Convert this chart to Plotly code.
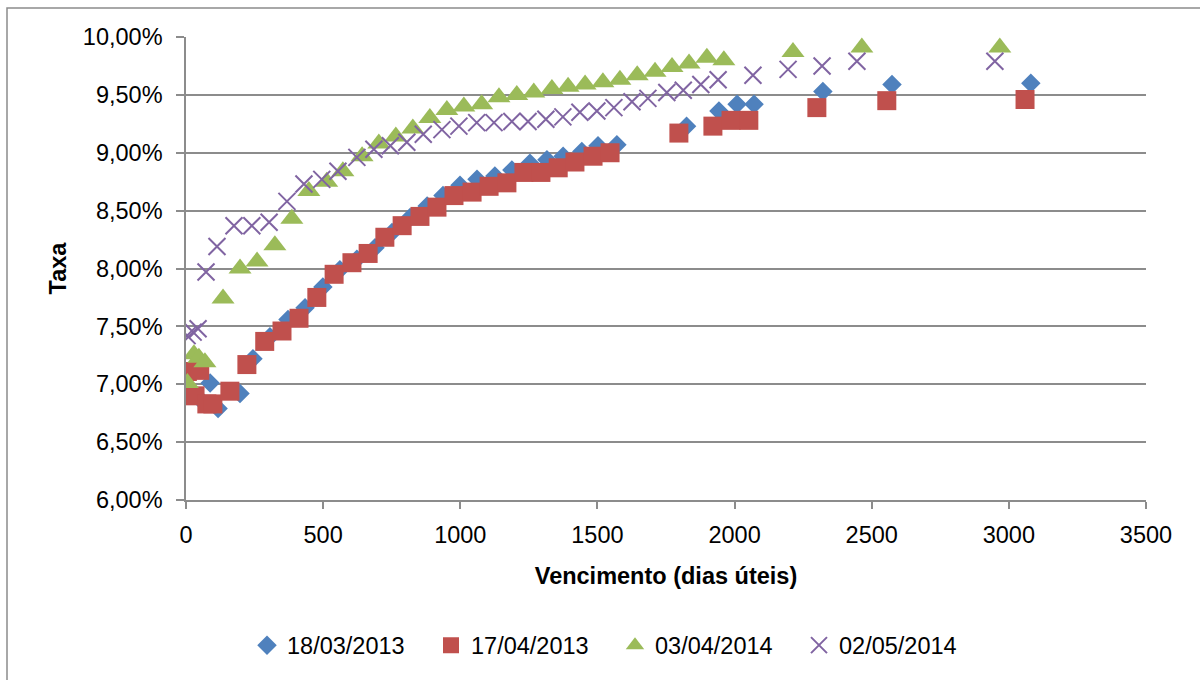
import plotly.graph_objects as go

# ---- data (days to maturity, rate in %) ----
days_2013_03 = [51, 88, 117, 197, 244, 306, 372, 434, 499, 561, 623, 689, 751, 817, 879, 937, 999,
                1061, 1126, 1188, 1254, 1316, 1375, 1443, 1502, 1571, 1825, 1943, 2009, 2071, 2322, 2574, 3080]
rate_2013_03 = [6.87, 7.01, 6.79, 6.92, 7.22, 7.41, 7.56, 7.66, 7.84, 7.99, 8.08, 8.18, 8.31, 8.44, 8.54, 8.63, 8.72,
                8.77, 8.80, 8.85, 8.91, 8.94, 8.97, 9.01, 9.06, 9.07, 9.23, 9.36, 9.42, 9.42, 9.53, 9.59, 9.60]

days_2013_04 = [5, 33, 50, 76, 98, 160, 222, 287, 350, 412, 477, 540, 605, 664, 725, 788, 853, 915, 977,
                1043, 1105, 1170, 1232, 1294, 1357, 1418, 1484, 1546, 1797, 1921, 1987, 2052, 2300, 2555, 3059]
rate_2013_04 = [7.11, 6.90, 7.12, 6.83, 6.83, 6.94, 7.17, 7.37, 7.46, 7.57, 7.75, 7.95, 8.05, 8.13, 8.27, 8.37, 8.45, 8.53, 8.63,
                8.66, 8.71, 8.74, 8.83, 8.83, 8.87, 8.92, 8.97, 9.00, 9.17, 9.23, 9.28, 9.28, 9.39, 9.45, 9.46]

days_2014_04 = [5, 29, 47, 69, 135, 197, 259, 324, 386, 448, 513, 572, 642, 703, 765, 827, 889, 951, 1013,
                1078, 1141, 1206, 1268, 1334, 1393, 1455, 1520, 1582, 1645, 1710, 1772, 1834, 1899, 1961, 2213, 2464, 2967]
rate_2014_04 = [7.01, 7.26, 7.23, 7.19, 7.74, 8.00, 8.06, 8.20, 8.43, 8.67, 8.75, 8.84, 8.97, 9.08, 9.14, 9.21, 9.30, 9.37, 9.40,
                9.42, 9.48, 9.50, 9.52, 9.55, 9.57, 9.59, 9.61, 9.63, 9.67, 9.70, 9.74, 9.77, 9.82, 9.80, 9.87, 9.91, 9.91]

days_2014_05 = [4, 26, 44, 73, 113, 175, 240, 303, 368, 430, 495, 554, 623, 685, 745, 805, 865, 933, 995,
                1060, 1123, 1188, 1247, 1312, 1374, 1436, 1498, 1560, 1626, 1684, 1753, 1813, 1877, 1940, 2067, 2195, 2319, 2446, 2949]
rate_2014_05 = [7.42, 7.45, 7.48, 7.97, 8.19, 8.37, 8.37, 8.40, 8.58, 8.73, 8.77, 8.84, 8.96, 9.03, 9.06, 9.09, 9.16, 9.20, 9.23,
                9.26, 9.26, 9.27, 9.27, 9.29, 9.31, 9.35, 9.36, 9.39, 9.44, 9.47, 9.52, 9.54, 9.59, 9.63, 9.67, 9.72, 9.75, 9.79, 9.79]

series_names = ["18/03/2013", "17/04/2013", "03/04/2014", "02/05/2014"]
x_ticks = [0, 500, 1000, 1500, 2000, 2500, 3000, 3500]
y_ticks = [6.0, 6.5, 7.0, 7.5, 8.0, 8.5, 9.0, 9.5, 10.0]

FONT = "Liberation Sans"
FS = 23.5
GRID = "#8c8c8c"

fig = go.Figure()
fig.add_trace(go.Scatter(x=days_2013_03, y=[v / 100 for v in rate_2013_03], mode="markers", name=series_names[0],
                         marker=dict(symbol="diamond", size=15, color="#4F81BD")))
fig.add_trace(go.Scatter(x=days_2013_04, y=[v / 100 for v in rate_2013_04], mode="markers", name=series_names[1],
                         marker=dict(symbol="square", size=19, color="#C0504D")))
fig.add_trace(go.Scatter(x=days_2014_04, y=[v / 100 for v in rate_2014_04], mode="markers", name=series_names[2],
                         marker=dict(symbol="triangle-up", size=20, color="#9BBB59")))
fig.add_trace(go.Scatter(x=days_2014_05, y=[v / 100 for v in rate_2014_05], mode="markers", name=series_names[3],
                         marker=dict(symbol="x-thin-open", size=17, color="#8064A2",
                                     line=dict(color="#8064A2", width=2))))

L, R, T, B = 186, 54, 37, 178
W, H = 1200, 680
pw, ph = W - L - R, H - T - B

fig.update_layout(
    width=W, height=H,
    margin=dict(l=L, r=R, t=T, b=B, pad=0),
    paper_bgcolor="white", plot_bgcolor="white",
    separators=",.",
    font=dict(family=FONT, size=FS, color="#000000"),
    showlegend=True,
    legend=dict(orientation="h", x=(247 - L) / pw, xanchor="left", y=(T + ph - 648) / ph, yanchor="middle",
                font=dict(family=FONT, size=FS, color="#000000"), entrywidth=139, itemwidth=30,
                bgcolor="rgba(0,0,0,0)"),
    xaxis=dict(range=[0, 3500], tickvals=x_ticks, showgrid=False, zeroline=False,
               showline=True, linecolor=GRID, linewidth=1.5, ticks="outside", tickcolor=GRID,
               ticklen=7, tickwidth=1.5, ticklabelstandoff=6,
               title=dict(text="<b>Vencimento (dias úteis)</b>", font=dict(family=FONT, size=FS), standoff=21)),
    yaxis=dict(range=[0.06, 0.10], tickvals=[v / 100 for v in y_ticks], tickformat=".2%",
               showgrid=True, gridcolor=GRID, gridwidth=1.5, zeroline=False,
               showline=True, linecolor=GRID, linewidth=1.5, ticks="outside", tickcolor=GRID,
               ticklen=8, tickwidth=1.5, ticklabelstandoff=9,
               title=dict(text="<b>Taxa</b>", font=dict(family=FONT, size=FS), standoff=10)),
)

# outer chart border (right and bottom edges lie outside the picture)
fig.add_shape(type="rect", xref="paper", yref="paper",
              x0=(7 - L) / pw, x1=(1260 - L) / pw, y0=(T + ph - 740) / ph, y1=(T + ph - 8) / ph,
              line=dict(color=GRID, width=1.5), fillcolor="rgba(0,0,0,0)", layer="below")

fig.write_html("out.html")
